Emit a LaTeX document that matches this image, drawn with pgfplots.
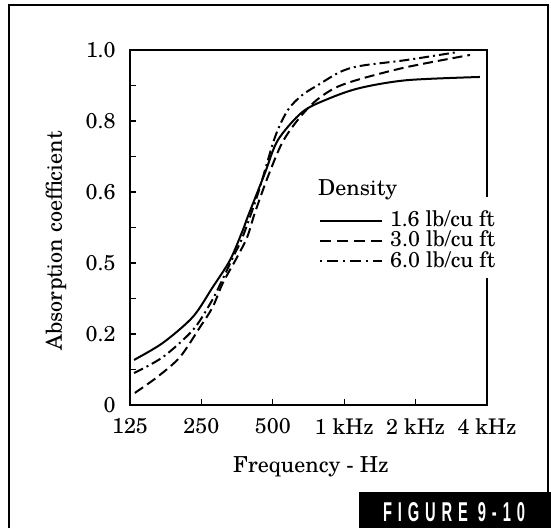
\documentclass[border=0pt]{standalone}
\usepackage{pgfplots}
\pgfplotsset{compat=1.18}
\usepackage{graphicx}
\usepackage{fontspec}
\setmainfont{TeX Gyre Schola}
\newfontfamily\figfont[LetterSpace=40]{Liberation Sans}

\pgfplotstableread{
f v
130 0.127
172 0.175
230 0.248
279 0.332
330 0.408
374 0.493
392 0.530
463 0.653
525 0.746
665 0.825
853 0.862
1165 0.893
1840 0.915
3730 0.924
}\solid

\pgfplotstableread{
f v
131 0.034
163 0.079
203 0.135
247 0.220
279 0.276
308 0.344
354 0.417
390 0.473
420 0.541
476 0.642
547 0.738
637 0.803
753 0.855
914 0.893
1165 0.918
1840 0.952
3390 0.986
}\dashedtab

\pgfplotstableread{
f v
130 0.090
172 0.135
230 0.211
272 0.285
300 0.340
342 0.420
374 0.475
435 0.600
511 0.755
579 0.831
665 0.873
774 0.901
960 0.938
1165 0.955
1840 0.972
2990 0.994
}\dashdot

\begin{document}
\begin{tikzpicture}
\useasboundingbox (0pt,0pt) rectangle (551pt,528pt);
\draw[line width=2pt] (9pt,0pt) -- (9pt,523pt) -- (548pt,523pt) -- (548pt,0pt);
\begin{axis}[
  at={(130pt,123pt)}, anchor=south west, scale only axis,
  width=357pt, height=355pt,
  xmode=log, log basis x=2, xmin=125, xmax=4000, ymin=0, ymax=1,
  xtick={125,250,500,1000,2000,4000},
  xticklabels={125,250,500,1 kHz,2 kHz,4 kHz},
  ytick={0,0.2,0.4,0.6,0.8,1},
  yticklabels={0,0.2,0.5,0.6,0.8,1.0},
  minor ytick={0.1,0.3,0.5,0.7,0.9},
  xtick pos=left, ytick pos=left,
  tick align=inside, major tick length=6pt, minor tick length=6pt,
  every tick/.style={line width=1.2pt, black},
  axis line style={line width=2.4pt},
  ticklabel style={font=\fontsize{21.5}{24}\selectfont},
  xticklabel style={yshift=-10pt},
  yticklabel style={xshift=-11pt},
  /pgf/number format/assume math mode=true,
]
\addplot[black, line width=2pt, smooth, tension=0.5] table[x=f,y=v] {\solid};
\addplot[black, line width=2pt, smooth, tension=0.5, dash pattern=on 10pt off 5pt] table[x=f,y=v] {\dashedtab};
\addplot[black, line width=2pt, smooth, tension=0.5, dash pattern=on 10pt off 4pt on 2pt off 4pt] table[x=f,y=v] {\dashdot};
\end{axis}
\fill[white] (380pt,250pt) rectangle (512pt,331pt);
\begin{scope}[font=\fontsize{22}{26}\selectfont]
\node[anchor=base west, inner sep=0] at (318pt,332pt) {Density};
\end{scope}
\begin{scope}[font=\fontsize{21.5}{24}\selectfont]
\draw[line width=1.3pt] (320pt,307pt) -- (382pt,307pt);
\draw[line width=1.3pt, dash pattern=on 11pt off 6pt] (320pt,287pt) -- (382pt,287pt);
\draw[line width=1.3pt, dash pattern=on 2pt off 5pt on 11pt off 5pt] (320pt,267pt) -- (382pt,267pt);
\node[anchor=base west, inner sep=0] at (390pt,301pt) {1.6 lb/cu ft};
\node[anchor=base west, inner sep=0] at (390pt,281pt) {3.0 lb/cu ft};
\node[anchor=base west, inner sep=0] at (390pt,261pt) {6.0 lb/cu ft};
\end{scope}
\begin{scope}[font=\fontsize{22}{26}\selectfont]
\node[anchor=base, inner sep=0] at (311pt,56pt) {Frequency - Hz};
\node[rotate=90, inner sep=0] at (56pt,287pt) {Absorption coefficient};
\end{scope}
\fill[black] (359pt,0pt) rectangle (551pt,36pt);
\node[inner sep=0, text=white] at (454pt,16pt) {\resizebox{142pt}{19pt}{\figfont\bfseries FIGURE 9-10}};
\end{tikzpicture}
\end{document}
